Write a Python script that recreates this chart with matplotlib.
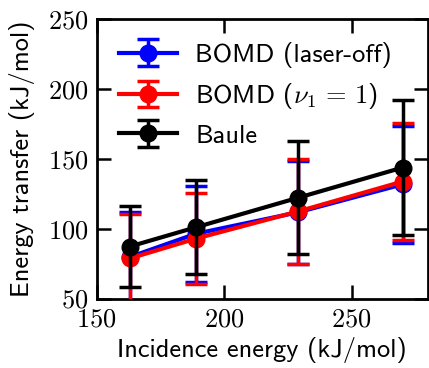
import matplotlib
matplotlib.use("Agg")
import matplotlib.pyplot as plt
from matplotlib.ticker import FuncFormatter, FixedLocator

# Data
incidence = [163, 189, 229, 270]
bomd_off = [80, 96.7, 112, 132]
bomd_off_err = [32.5, 34.3, 37, 42]
bomd_nu1 = [79, 93.2, 112.6, 134]
bomd_nu1_err = [32, 32.7, 37.8, 42]
baule = [87.5, 101.3, 122.4, 144]
baule_err = [29, 33.7, 40.5, 48]

xticks = [150, 200, 250]
yticks = [50, 100, 150, 200, 250]

plt.rcParams['mathtext.fontset'] = 'cm'
plt.rcParams['font.family'] = ['cmss10', 'DejaVu Sans']
plt.rcParams['axes.unicode_minus'] = False

fig = plt.figure(figsize=(4.29, 3.68), dpi=100)
ax = fig.add_axes([0.225, 0.1875, 0.773, 0.76])

common = dict(marker='o', markersize=12, linewidth=3, elinewidth=2.5,
              capsize=8, capthick=2.5)
ax.errorbar(incidence, bomd_off, yerr=bomd_off_err, color='#0000ff',
            label='BOMD (laser-off)', zorder=2, **common)
ax.errorbar(incidence, bomd_nu1, yerr=bomd_nu1_err, color='#ff0000',
            label=r'BOMD ($\nu_1 \,=\, 1$)', zorder=3, **common)
ax.errorbar(incidence, baule, yerr=baule_err, color='black',
            label='Baule', zorder=4, **common)

ax.set_xlim(150, 280)
ax.set_ylim(50, 250)
ax.xaxis.set_major_locator(FixedLocator(xticks))
ax.yaxis.set_major_locator(FixedLocator(yticks))
fmt = FuncFormatter(lambda v, p: r'$%d$' % v)
ax.xaxis.set_major_formatter(fmt)
ax.yaxis.set_major_formatter(fmt)
ax.tick_params(direction='in', length=10, width=1.8, top=True, right=True,
               labelsize=19, pad=6)
ax.tick_params(axis='x', pad=7)
for s in ax.spines.values():
    s.set_linewidth(2)

ax.set_xlabel('Incidence energy (kJ/mol)', fontsize=19, labelpad=4)
ax.set_ylabel('Energy transfer (kJ/mol)', fontsize=19, labelpad=9)

leg = ax.legend(loc='upper left', frameon=False, fontsize=19,
                handlelength=2.2, handletextpad=0.7, labelspacing=0.5,
                borderaxespad=0.45)

fig.savefig('out.png', dpi=100)
